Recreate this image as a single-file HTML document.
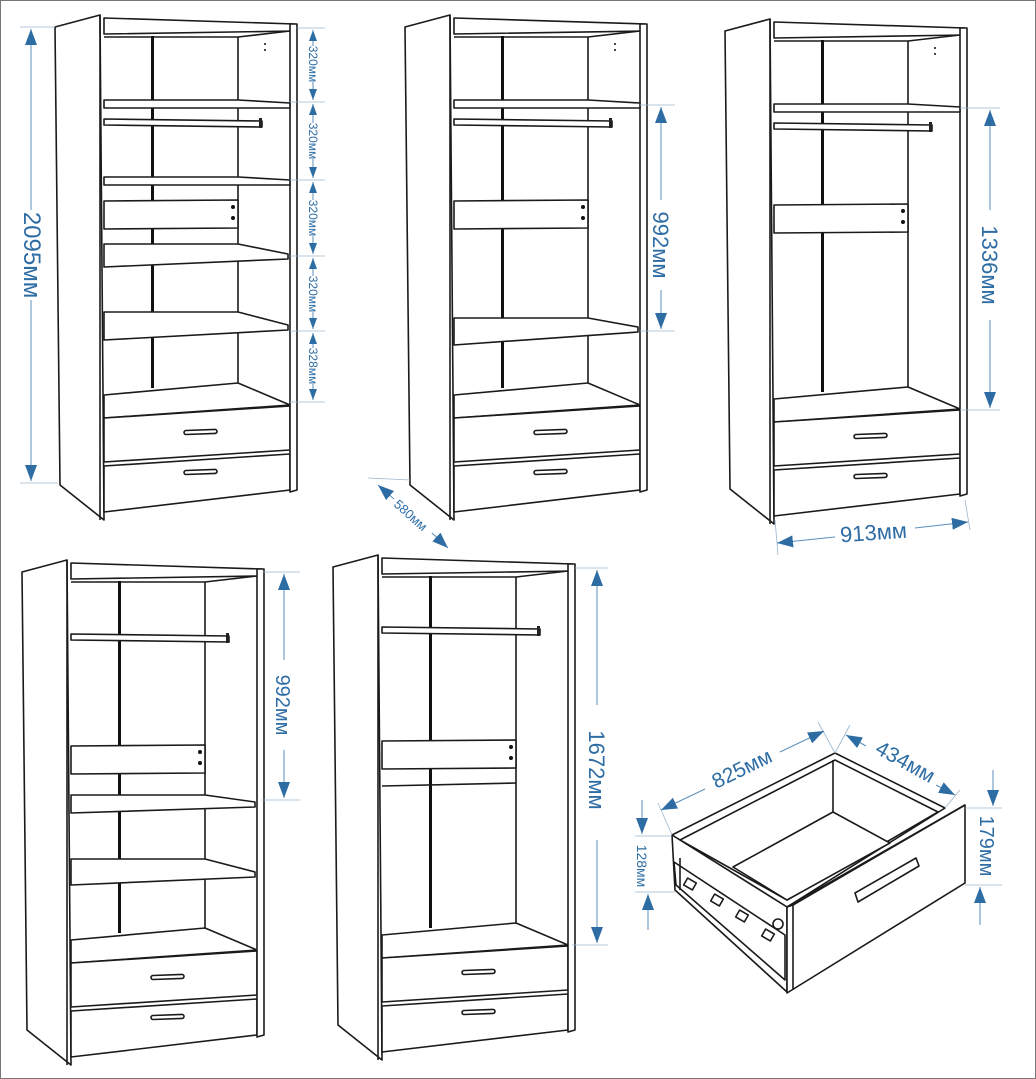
<!DOCTYPE html>
<html><head><meta charset="utf-8"><style>
html,body{margin:0;padding:0;background:#fff;}
svg{display:block;}
.l{fill:#fff;stroke:#1a1a1a;stroke-width:1.6;stroke-linejoin:round;}
.n{fill:none;stroke:#1a1a1a;stroke-width:1.6;}
.d{fill:none;stroke:#5b8fbd;stroke-width:1;}
.e{fill:none;stroke:#9ab6cf;stroke-width:0.8;}
text{font-family:"Liberation Sans",sans-serif;fill:#2e6da4;}
</style></head><body>
<svg width="1036" height="1079" viewBox="0 0 1036 1079" xmlns="http://www.w3.org/2000/svg">
<defs>
<marker id="a" viewBox="0 0 10 10" refX="10" refY="5" markerWidth="16" markerHeight="12" orient="auto-start-reverse" markerUnits="userSpaceOnUse" preserveAspectRatio="none"><path d="M0,0 L10,5 L0,10 z" fill="#2e6da4"/></marker>
<marker id="s" viewBox="0 0 10 10" refX="10" refY="5" markerWidth="11" markerHeight="8" orient="auto-start-reverse" markerUnits="userSpaceOnUse" preserveAspectRatio="none"><path d="M0,0 L10,5 L0,10 z" fill="#2e6da4"/></marker>
<g id="base">
<polygon class="l" points="55,27 100,15 104,520 60,485"/>
<line class="n" x1="100" y1="15" x2="100" y2="520"/>
<polygon class="l" points="104,18 295,24 295,31 104,34"/>
<line class="n" x1="104" y1="37" x2="238" y2="37"/>
<line class="n" x1="238" y1="37" x2="290" y2="31"/>
<line class="n" x1="238" y1="37" x2="238" y2="385"/>
<rect x="151" y="36" width="3" height="352" fill="#111"/>
<polygon class="l" points="104,395 238,383 290,405 104,418"/>
<polygon class="l" points="104,418 290,406 290,450 104,462"/>
<polygon class="l" points="104,466 290,454 290,490 104,512"/>
<polygon class="l" points="290,24 297,24 297,490 290,492"/>
<rect x="184" y="430" width="33" height="4" rx="2" class="l" transform="rotate(-2 200 432)"/>
<rect x="184" y="470" width="33" height="4" rx="2" class="l" transform="rotate(-2 200 472)"/>
</g>
<g id="rod">
<polygon class="l" points="104,119 262,121 262,127 104,125"/>
<rect x="259" y="118" width="3" height="10" fill="#222"/>
</g>
<g id="plank">
<polygon class="l" points="104,201 238,200 238,228 104,229"/>
<circle cx="233" cy="207" r="2" fill="#111"/><circle cx="233" cy="218" r="2" fill="#111"/>
</g>
</defs>
<rect x="0.5" y="0.5" width="1035" height="1078" fill="none" stroke="#777"/>

<!-- Wardrobe 1 -->
<g>
<use href="#base"/>
<polygon class="l" points="104,100 238,100 290,103 290,108 104,108"/>
<use href="#rod"/>
<polygon class="l" points="104,177 238,177 290,180 290,185 104,185"/>
<use href="#plank"/>
<polygon class="l" points="104,244 238,244 288,254 288,259 104,267 104,262"/>
<polygon class="l" points="104,312 238,312 288,325 288,330 104,340 104,334"/>
<line class="n" x1="265" y1="43" x2="265" y2="45"/><line class="n" x1="265" y1="49" x2="265" y2="51"/>
</g>
<line class="e" x1="20" y1="27" x2="55" y2="27"/><line class="e" x1="20" y1="483" x2="58" y2="483"/>
<line class="d" x1="31" y1="29" x2="31" y2="210" marker-start="url(#a)"/>
<line class="d" x1="31" y1="300" x2="31" y2="481" marker-end="url(#a)"/>
<text font-size="24" transform="translate(24,255) rotate(90)" text-anchor="middle">2095мм</text>
<g class="e"><line x1="297" y1="28" x2="325" y2="28"/><line x1="290" y1="102" x2="325" y2="102"/><line x1="290" y1="180" x2="325" y2="180"/><line x1="290" y1="256" x2="325" y2="256"/><line x1="290" y1="331" x2="325" y2="331"/><line x1="290" y1="402" x2="325" y2="402"/></g>
<g class="d">
<line x1="313" y1="30" x2="313" y2="100" marker-start="url(#s)" marker-end="url(#s)"/>
<line x1="313" y1="104" x2="313" y2="178" marker-start="url(#s)" marker-end="url(#s)"/>
<line x1="313" y1="182" x2="313" y2="254" marker-start="url(#s)" marker-end="url(#s)"/>
<line x1="313" y1="258" x2="313" y2="329" marker-start="url(#s)" marker-end="url(#s)"/>
<line x1="313" y1="333" x2="313" y2="400" marker-start="url(#s)" marker-end="url(#s)"/>
</g>
<g font-size="12">
<rect x="306" y="46" width="14" height="36" fill="#fff"/><text transform="translate(309,64) rotate(90)" text-anchor="middle">320мм</text>
<rect x="306" y="123" width="14" height="36" fill="#fff"/><text transform="translate(309,141) rotate(90)" text-anchor="middle">320мм</text>
<rect x="306" y="200" width="14" height="36" fill="#fff"/><text transform="translate(309,218) rotate(90)" text-anchor="middle">320мм</text>
<rect x="306" y="276" width="14" height="36" fill="#fff"/><text transform="translate(309,294) rotate(90)" text-anchor="middle">320мм</text>
<rect x="306" y="348" width="14" height="36" fill="#fff"/><text transform="translate(309,366) rotate(90)" text-anchor="middle">328мм</text>
</g>

<!-- Wardrobe 2 -->
<g transform="translate(350,0)">
<use href="#base"/>
<polygon class="l" points="104,100 238,100 290,103 290,108 104,108"/>
<use href="#rod"/>
<use href="#plank"/>
<polygon class="l" points="104,318 238,318 288,327 288,332 104,345 104,339"/>
<line class="n" x1="265" y1="43" x2="265" y2="45"/><line class="n" x1="265" y1="49" x2="265" y2="51"/>
</g>
<line class="e" x1="640" y1="105" x2="675" y2="105"/><line class="e" x1="640" y1="331" x2="675" y2="331"/>
<line class="d" x1="661" y1="107" x2="661" y2="200" marker-start="url(#a)"/>
<line class="d" x1="661" y1="290" x2="661" y2="329" marker-end="url(#a)"/>
<text font-size="22" transform="translate(653,245) rotate(90)" text-anchor="middle">992мм</text>
<line class="e" x1="368" y1="478" x2="410" y2="480"/>
<line class="d" x1="378" y1="485" x2="394" y2="499" marker-start="url(#a)"/>
<line class="d" x1="432" y1="533" x2="448" y2="548" marker-end="url(#a)"/>
<text font-size="13" transform="translate(410,516) rotate(42)" text-anchor="middle" dominant-baseline="middle">580мм</text>

<!-- Wardrobe 3 -->
<g transform="translate(670,4)">
<use href="#base"/>
<polygon class="l" points="104,100 238,100 290,103 290,108 104,108"/>
<use href="#rod"/>
<use href="#plank"/>
<line class="n" x1="265" y1="43" x2="265" y2="45"/><line class="n" x1="265" y1="49" x2="265" y2="51"/>
</g>
<line class="e" x1="960" y1="108" x2="1000" y2="108"/><line class="e" x1="960" y1="410" x2="1000" y2="410"/>
<line class="d" x1="990" y1="110" x2="990" y2="210" marker-start="url(#a)"/>
<line class="d" x1="990" y1="320" x2="990" y2="408" marker-end="url(#a)"/>
<text font-size="22" transform="translate(982,265) rotate(90)" text-anchor="middle">1336мм</text>
<line class="e" x1="775" y1="520" x2="778" y2="555"/><line class="e" x1="965" y1="500" x2="970" y2="530"/>
<line class="d" x1="777" y1="543" x2="835" y2="537" marker-start="url(#a)"/>
<line class="d" x1="915" y1="528" x2="968" y2="522" marker-end="url(#a)"/>
<text font-size="22" transform="translate(874,540) rotate(-4)" text-anchor="middle">913мм</text>

<!-- Wardrobe 4 -->
<g transform="translate(-33,545)">
<use href="#base"/>
<g transform="translate(0,-30)"><use href="#rod"/></g>
<use href="#plank"/>
<polygon class="l" points="104,250 238,250 288,257 288,262 104,268 104,263"/>
<polygon class="l" points="104,314 238,314 288,327 288,332 104,340 104,335"/>
</g>
<line class="e" x1="262" y1="572" x2="300" y2="572"/><line class="e" x1="262" y1="800" x2="300" y2="800"/>
<line class="d" x1="284" y1="574" x2="284" y2="660" marker-start="url(#a)"/>
<line class="d" x1="284" y1="750" x2="284" y2="798" marker-end="url(#a)"/>
<text font-size="20" transform="translate(276,705) rotate(90)" text-anchor="middle">992мм</text>

<!-- Wardrobe 5 -->
<g transform="translate(278,540)">
<use href="#base"/>
<g transform="translate(0,-32)"><use href="#rod"/></g>
<use href="#plank"/>
<line class="n" x1="104" y1="246" x2="238" y2="243"/>
</g>
<line class="e" x1="575" y1="568" x2="608" y2="568"/><line class="e" x1="572" y1="945" x2="608" y2="945"/>
<line class="d" x1="597" y1="570" x2="597" y2="705" marker-start="url(#a)"/>
<line class="d" x1="597" y1="840" x2="597" y2="943" marker-end="url(#a)"/>
<text font-size="22" transform="translate(589,770) rotate(90)" text-anchor="middle">1672мм</text>

<!-- Drawer -->
<g>
<polygon class="l" points="672,835 835,753 945,808 787,907"/>
<polygon class="l" points="680,840 835,760 938,812 787,900"/>
<polygon class="l" points="733,867 833,812 890,843 787,900"/>
<line class="n" x1="833" y1="760" x2="833" y2="812"/>
<polygon class="l" points="672,835 787,907 787,992 675,890"/>
<polygon class="l" points="674,862 785,935 785,980 676,885"/>
<line class="n" x1="680" y1="858" x2="680" y2="890"/>
<rect x="685" y="880" width="10" height="8" class="l" transform="rotate(30 690 884)"/>
<rect x="712" y="896" width="10" height="8" class="l" transform="rotate(30 717 900)"/>
<rect x="737" y="912" width="10" height="8" class="l" transform="rotate(30 742 916)"/>
<rect x="763" y="931" width="10" height="8" class="l" transform="rotate(30 768 935)"/>
<circle cx="778" cy="924" r="5" class="l"/>
<polygon class="l" points="787,907 965,805 965,883 787,993"/>
<line class="n" x1="793" y1="905" x2="793" y2="990"/>
<line class="n" x1="787" y1="907" x2="793" y2="905"/>
<line class="n" x1="793" y1="905" x2="965" y2="805"/>
<polygon class="l" points="855,893 916,858 919,866 858,902"/>
</g>
<line class="e" x1="658" y1="803" x2="672" y2="835"/><line class="e" x1="818" y1="722" x2="835" y2="753"/>
<line class="d" x1="661" y1="810" x2="705" y2="789" marker-start="url(#a)"/>
<line class="d" x1="780" y1="752" x2="824" y2="731" marker-end="url(#a)"/>
<text font-size="21" transform="translate(745,775) rotate(-26)" text-anchor="middle">825мм</text>
<line class="e" x1="850" y1="725" x2="835" y2="753"/><line class="e" x1="960" y1="790" x2="945" y2="808"/>
<line class="d" x1="846" y1="735" x2="866" y2="746" marker-start="url(#a)"/>
<line class="d" x1="936" y1="785" x2="955" y2="795" marker-end="url(#a)"/>
<text font-size="21" transform="translate(902,768) rotate(29)" text-anchor="middle">434мм</text>
<line class="e" x1="635" y1="836" x2="672" y2="836"/><line class="e" x1="635" y1="892" x2="675" y2="892"/>
<line class="d" x1="642" y1="800" x2="642" y2="834" marker-end="url(#a)"/>
<line class="d" x1="648" y1="930" x2="648" y2="894" marker-end="url(#a)"/>
<text font-size="14" transform="translate(637,866) rotate(90)" text-anchor="middle">128мм</text>
<line class="e" x1="965" y1="808" x2="1002" y2="808"/><line class="e" x1="965" y1="885" x2="1002" y2="885"/>
<line class="d" x1="993" y1="770" x2="993" y2="806" marker-end="url(#a)"/>
<line class="d" x1="980" y1="925" x2="980" y2="887" marker-end="url(#a)"/>
<text font-size="20" transform="translate(980,846) rotate(90)" text-anchor="middle">179мм</text>
</svg>
</body></html>
